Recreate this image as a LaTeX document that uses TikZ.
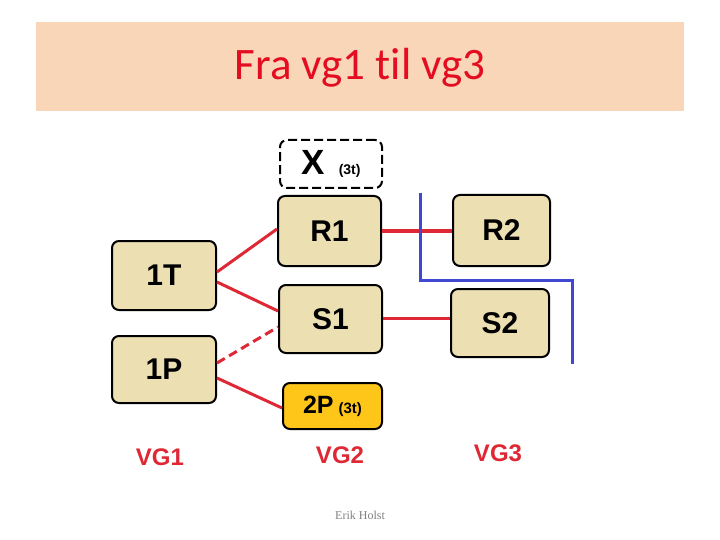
\documentclass[tikz,border=0pt]{standalone}
\usepackage{fontspec}
\setmainfont{Liberation Sans}
\newfontfamily\titlefont[Ligatures=NoCommon]{Carlito}
\newfontfamily\footfont{Liberation Serif}
\usetikzlibrary{positioning}
\definecolor{titlebg}{RGB}{250,214,184}
\definecolor{titlered}{RGB}{228,12,32}
\definecolor{boxfill}{RGB}{236,224,178}
\definecolor{goldfill}{RGB}{255,198,26}
\definecolor{linered}{RGB}{222,40,52}
\definecolor{lineblue}{RGB}{64,72,210}

\begin{document}
\begin{tikzpicture}[x=1pt, y=-1pt,
    course/.style={rectangle, draw=black, line width=2pt, rounded corners=7pt, fill=boxfill,
        font=\fontsize{30}{32}\selectfont\bfseries, inner sep=0pt},
    link/.style={draw=linered, line width=3pt},
    level/.style={font=\fontsize{24}{26}\selectfont\bfseries, text=linered}]
    \useasboundingbox (0,0) rectangle (720,540);
    \fill[titlebg] (36,22) rectangle (684,111);
    \node[text=titlered, font=\titlefont\fontsize{45}{48}\selectfont] (title) at (360,68) {Fra vg1 til vg3};

    \node [course, fill=white, dash pattern=on 9pt off 4pt, minimum width=102pt, minimum height=48pt] (x) at (331,164)
        {\fontsize{35}{37}\selectfont X\hspace{14pt}{\fontsize{14}{16}\selectfont (3t)}};
    \node [course, minimum width=103pt, minimum height=70pt] (r1) at (329.5,231) {R1};
    \node [course, minimum width=103pt, minimum height=68pt] (s1) at (330.5,319) {S1};
    \node [course, minimum width=104pt, minimum height=69pt] (t1) at (164,275.5) {1T};
    \node [course, minimum width=104pt, minimum height=67pt] (p1) at (164,369.5) {1P};
    \node [course, fill=goldfill, minimum width=99pt, minimum height=46pt,
        font=\fontsize{25}{27}\selectfont\bfseries] (p2) at (332.5,406)
        {2P\hspace{5pt}{\fontsize{15}{17}\selectfont (3t)}};
    \node [course, minimum width=97pt, minimum height=71pt] (r2) at (501.5,230.5) {R2};
    \node [course, minimum width=98pt, minimum height=68pt] (s2) at (500,323) {S2};

    \draw [link] (t1.east |- 0,272) -- (r1.west |- 0,229);
    \draw [link] (t1.east |- 0,282) -- (s1.west |- 0,311);
    \draw [link, dash pattern=on 9pt off 5pt] (p1.east |- 0,363) -- (s1.west |- 0,327);
    \draw [link] (p1.east |- 0,378) -- (p2.west |- 0,408);
    \draw [link] (r1.east |- 0,231) -- (r2.west |- 0,231);
    \draw [link] (s1.east |- 0,318) -- (s2.west |- 0,318);

    % blue border between vg2 and vg3
    \draw [lineblue, line width=3pt] (420,193) -- (420,280) -- (572,280) -- (572,364);

    \node [level] (vg1) at (160,457) {VG1};
    \node [level] (vg2) at (340,455) {VG2};
    \node [level] (vg3) at (498,453) {VG3};

    \node [text=gray, font=\footfont\fontsize{12}{14}\selectfont] (author) at (360,515) {Erik Holst};
\end{tikzpicture}
\end{document}
